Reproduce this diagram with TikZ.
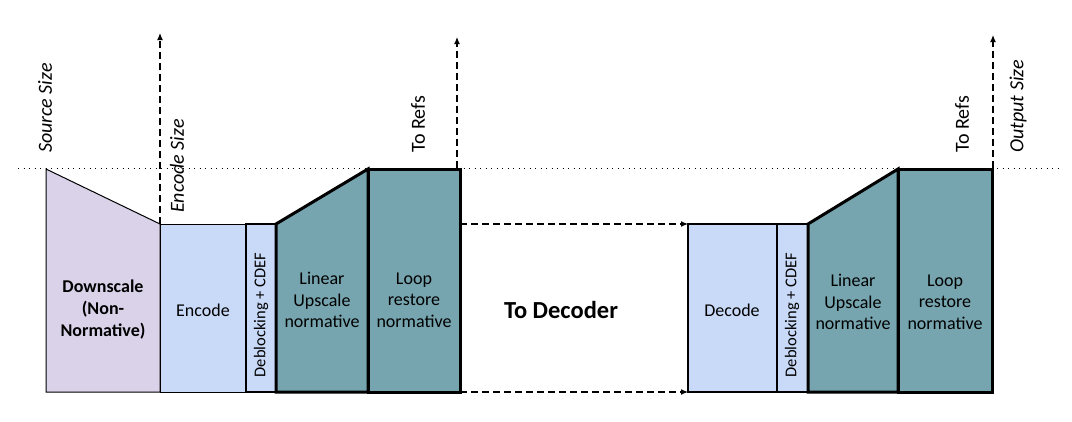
\documentclass[tikz,border=0pt]{standalone}
\usepackage{fontspec}
\setmainfont{Carlito}
\usetikzlibrary{arrows.meta}
\definecolor{lav}{HTML}{D9D2E9}
\definecolor{lblue}{HTML}{C9DAF8}
\definecolor{tealbox}{HTML}{76A5AF}
\begin{document}
\begin{tikzpicture}[x=1pt,y=-1pt,
  thinbox/.style={draw=black, line width=1pt, line join=miter},
  decbox/.style={draw=black, line width=1.6pt, line join=miter},
  midbox/.style={draw=black, line width=2pt, line join=miter},
  thickbox/.style={draw=black, line width=3pt, line join=miter},
  lbl/.style={font=\fontsize{18}{21.5}\selectfont, align=center, inner sep=0pt},
  blbl/.style={font=\fontsize{18}{22}\selectfont\bfseries, align=center, inner sep=0pt},
  vlbl/.style={font=\fontsize{16.5}{19}\selectfont, rotate=90, inner sep=0pt},
  sidelbl/.style={font=\fontsize{20}{24}\selectfont\itshape, rotate=90, anchor=west, inner sep=0pt},
  refslbl/.style={font=\fontsize{20}{24}\selectfont, rotate=90, anchor=west, inner sep=0pt},
  dasharrow/.style={dash pattern=on 7pt off 4pt, line width=1.2pt, -{Latex[length=7pt,width=6pt]}},
  dotline/.style={line width=1pt, dash pattern=on 1pt off 4.5pt},
]
\useasboundingbox (0,0) rectangle (1072,421);

% dotted size line
\coordinate (dl) at (18,168);
\coordinate (dr) at (1062,168);
\draw[dotline] (dl) -- (dr);

% corner coordinates
\coordinate (dsTL) at (46,169);
\coordinate (dsBL) at (46,392);
\coordinate (encTL) at (160,224);
\coordinate (encBL) at (160,392);
\coordinate (encTR) at (246,224);
\coordinate (encBR) at (246,392);
\coordinate (debTR) at (276,224);
\coordinate (debBR) at (276,392);
\coordinate (linTR) at (368,169);
\coordinate (linBR) at (368,392);
\coordinate (lrTR) at (460,169);
\coordinate (lrBR) at (460,392);
\coordinate (lrA) at (460,224);
\coordinate (decTL) at (688,224);
\coordinate (decBL) at (688,392);
\coordinate (decTR) at (777,224);
\coordinate (decBR) at (777,392);
\coordinate (deb2TR) at (808,224);
\coordinate (deb2BR) at (808,392);
\coordinate (lin2TR) at (898,169);
\coordinate (lin2BR) at (898,392);
\coordinate (lr2TR) at (992,169);
\coordinate (lr2BR) at (992,392);

% encoder side
\filldraw[thinbox, fill=lav] (dsTL) -- (encTL) -- (encBL) -- (dsBL) -- cycle;
\filldraw[thinbox, fill=lblue] (encTL) rectangle (encBR);
\filldraw[midbox, fill=lblue] (encTR) rectangle (debBR);
\filldraw[thickbox, fill=tealbox] (debTR) -- (linTR) -- (linBR) -- (debBR) -- cycle;
\filldraw[thickbox, fill=tealbox] (linTR) rectangle (lrBR);

% decoder side
\filldraw[decbox, fill=lblue] (decTL) rectangle (decBR);
\filldraw[midbox, fill=lblue] (decTR) rectangle (deb2BR);
\filldraw[thickbox, fill=tealbox] (deb2TR) -- (lin2TR) -- (lin2BR) -- (deb2BR) -- cycle;
\filldraw[thickbox, fill=tealbox] (lin2TR) rectangle (lr2BR);

% block texts
\node[blbl] (down) at (103,310) {Downscale\\(Non-\\Normative)};
\node[lbl] (enc) at (203,310) {Encode};
\node[vlbl] (deb) at (261,315) {Deblocking + CDEF};
\node[lbl] (lin) at (322,300) {Linear\\Upscale\\normative};
\node[lbl] (lr) at (414,300) {Loop\\restore\\normative};
\node[font=\fontsize{24.5}{28}\selectfont\bfseries, inner sep=0pt] (todec) at (561,310) {To Decoder};
\node[lbl] (dec) at (732,310) {Decode};
\node[vlbl] (deb2) at (792,315) {Deblocking + CDEF};
\node[lbl] (lin2) at (853,302) {Linear\\Upscale\\normative};
\node[lbl] (lr2) at (945,302) {Loop\\restore\\normative};

% connectors to decoder
\coordinate (lrB) at (460,392);
\draw[dasharrow] (lrA) -- (decTL);
\draw[dasharrow] (lrB) -- (decBL);

% upward arrows
\coordinate (encUp) at (160,33);
\coordinate (refBase) at (457,168);
\coordinate (refUp) at (457,37);
\coordinate (outBase) at (993,168);
\coordinate (outUp) at (993,35);
\draw[dasharrow] (encTL) -- (encUp);
\draw[dasharrow] (refBase) -- (refUp);
\draw[dasharrow] (outBase) -- (outUp);

% side labels
\node[sidelbl] (srcsize) at (45,153) {Source Size};
\node[sidelbl] (encsize) at (177,213) {Encode Size};
\node[refslbl] (refs1) at (418,153) {To Refs};
\node[refslbl] (refs2) at (962,153) {To Refs};
\node[sidelbl] (outsize) at (1018,153) {Output Size};
\end{tikzpicture}
\end{document}
